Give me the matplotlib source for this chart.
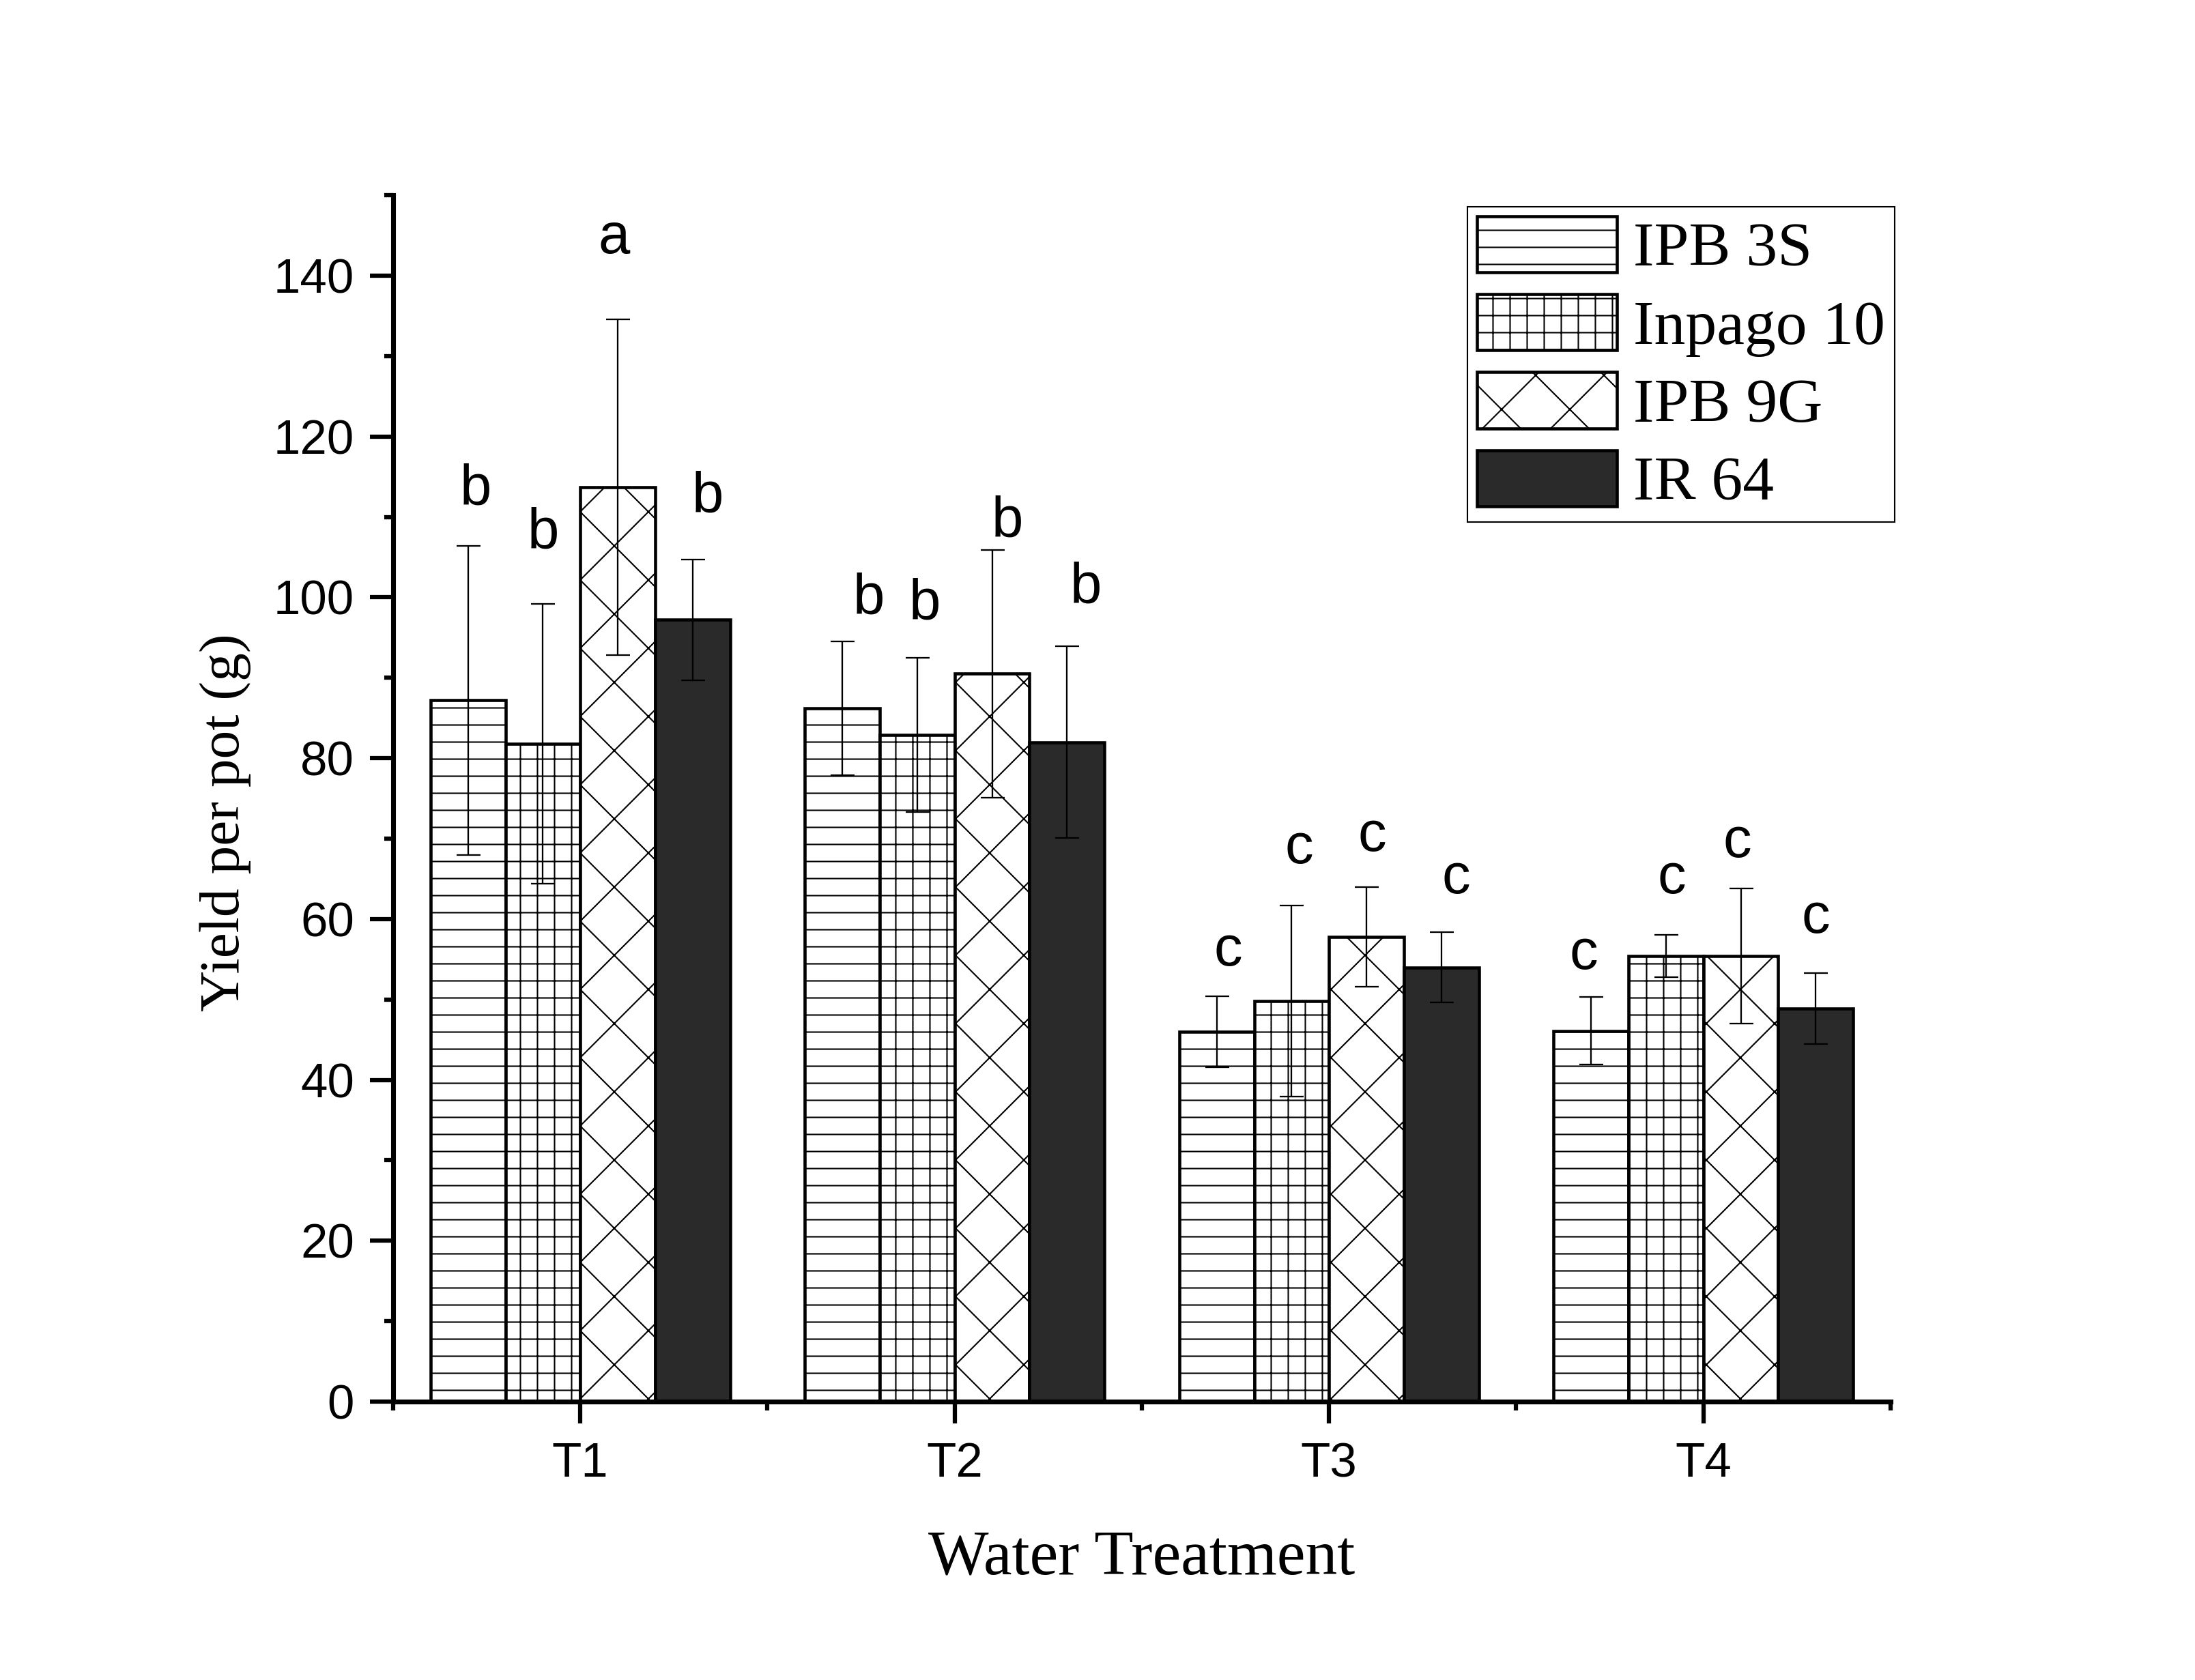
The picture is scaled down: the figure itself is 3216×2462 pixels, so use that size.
import numpy as np
import matplotlib
matplotlib.use("Agg")
from matplotlib import pyplot as plt
from matplotlib.ticker import MultipleLocator, FixedLocator

treatments = ['T1', 'T2', 'T3', 'T4']
varieties = ['IPB 3S', 'Inpago 10', 'IPB 9G', 'IR 64']

# mean yield and error per variety, T1..T4
ipb3s = [87.2, 86.2, 46.0, 46.1]
ipb3s_err = [19.2, 8.3, 4.4, 4.2]
inpago10 = [81.8, 82.9, 49.8, 55.4]
inpago10_err = [17.4, 9.6, 11.9, 2.6]
ipb9g = [113.7, 90.5, 57.8, 55.4]
ipb9g_err = [20.9, 15.4, 6.2, 8.4]
ir64 = [97.2, 82.0, 54.0, 48.9]
ir64_err = [7.5, 11.9, 4.4, 4.4]

# significance letters and the height they sit at
ipb3s_let = ['b', 'b', 'c', 'c']
inpago10_let = ['b', 'b', 'c', 'c']
ipb9g_let = ['a', 'b', 'c', 'c']
ir64_let = ['b', 'b', 'c', 'c']
ipb3s_let_y = [113.4, 99.8, 56.1, 55.7]
inpago10_let_y = [108.0, 99.1, 68.8, 65.1]
ipb9g_let_y = [144.7, 109.4, 70.3, 69.6]
ir64_let_y = [112.5, 101.2, 65.1, 60.2]

plt.rcParams['hatch.linewidth'] = 0.5

fig = plt.figure(figsize=(10.72, 8.2067), dpi=300)
ax = fig.add_axes([0.1791, 0.1657, 0.6822, 0.7181])

x = np.arange(1, 5)
w = 0.2
series = [
    (ipb3s, ipb3s_err, ipb3s_let, ipb3s_let_y, 'white', '--', [0.02, 0.07, 0.03, -0.02]),
    (inpago10, inpago10_err, inpago10_let, inpago10_let_y, 'white', '++', [0.0, 0.02, 0.02, 0.015]),
    (ipb9g, ipb9g_err, ipb9g_let, ipb9g_let_y, 'white', 'x', [-0.01, 0.04, 0.015, -0.01]),
    (ir64, ir64_err, ir64_let, ir64_let_y, '#2a2a2a', None, [0.04, 0.05, 0.04, 0.0]),
]

for i, (vals, err, let, let_y, fc, hatch, dx) in enumerate(series):
    xs = x + (i - 1.5) * w
    ax.bar(xs, vals, width=w, color=fc, edgecolor='black', linewidth=1.1,
           hatch=hatch, label=varieties[i], zorder=2)
    ax.errorbar(xs, vals, yerr=err, fmt='none', ecolor='black', elinewidth=0.55,
                capsize=4.2, capthick=0.55, zorder=3)
    for j in range(4):
        ax.text(xs[j] + dx[j], let_y[j], let[j], ha='center', va='center',
                fontsize=20, family='Liberation Sans', zorder=4)

ax.set_xlim(0.5, 4.5)
ax.set_ylim(0, 150)
ax.set_xticks(x)
ax.set_xticklabels(treatments)
ax.xaxis.set_minor_locator(FixedLocator([0.5, 1.5, 2.5, 3.5, 4.5]))
ax.set_yticks(np.arange(0, 141, 20))
ax.yaxis.set_minor_locator(MultipleLocator(10))

for side in ['top', 'right']:
    ax.spines[side].set_visible(False)
for side in ['left', 'bottom']:
    ax.spines[side].set_linewidth(1.7)

ax.tick_params(axis='both', which='major', direction='out', width=1.5, labelsize=17)
ax.tick_params(axis='x', which='major', length=7.7, pad=6.5)
ax.tick_params(axis='y', which='major', length=8.2, pad=5.5)
ax.tick_params(axis='both', which='minor', direction='out', width=1.5, length=3.2)
for lab in ax.get_xticklabels() + ax.get_yticklabels():
    lab.set_family('Liberation Sans')

ax.set_xlabel('Water Treatment', family='Liberation Serif', fontsize=22.5, labelpad=15)
ax.set_ylabel('Yield per pot (g)', family='Liberation Serif', fontsize=20)
ax.yaxis.set_label_coords(-0.095, 0.48)

leg = ax.legend(loc='upper right', bbox_to_anchor=(0.8632, 0.8769),
                bbox_transform=fig.transFigure, prop={'family': 'Liberation Serif', 'size': 22},
                handlelength=2.24, handleheight=1.0, labelspacing=0.25,
                handletextpad=0.26, borderpad=0.15, borderaxespad=0,
                fancybox=False, framealpha=1, edgecolor='black')
leg.get_frame().set_linewidth(0.5)

fig.savefig('out.png', dpi=300, facecolor='white')
